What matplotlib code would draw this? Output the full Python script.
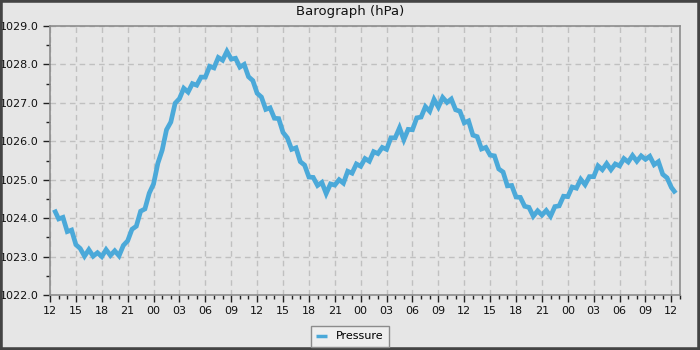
import matplotlib
matplotlib.use("Agg")
import matplotlib.pyplot as plt
import matplotlib.dates as mdates
from matplotlib.patches import Rectangle
from matplotlib.ticker import MultipleLocator, FormatStrFormatter
import pandas as pd

# Half-hourly pressure readings (hPa), starting 12:30 on day 1
pressure = [
    1024.22, 1023.98, 1024.02, 1023.65, 1023.69, 1023.31, 1023.21, 1023.01,
    1023.18, 1023.01, 1023.10, 1023.00, 1023.18, 1023.03, 1023.15, 1023.02,
    1023.29, 1023.41, 1023.71, 1023.79, 1024.18, 1024.24, 1024.65, 1024.89,
    1025.43, 1025.77, 1026.30, 1026.50, 1026.99, 1027.11, 1027.38, 1027.28,
    1027.50, 1027.46, 1027.67, 1027.67, 1027.95, 1027.91, 1028.18, 1028.11,
    1028.34, 1028.14, 1028.16, 1027.93, 1028.00, 1027.68, 1027.58, 1027.25,
    1027.15, 1026.83, 1026.87, 1026.60, 1026.59, 1026.23, 1026.09, 1025.79,
    1025.83, 1025.47, 1025.38, 1025.07, 1025.06, 1024.85, 1024.93, 1024.64,
    1024.89, 1024.86, 1025.00, 1024.91, 1025.22, 1025.17, 1025.41, 1025.35,
    1025.55, 1025.48, 1025.73, 1025.68, 1025.84, 1025.79, 1026.09, 1026.09,
    1026.35, 1026.04, 1026.31, 1026.30, 1026.61, 1026.63, 1026.90, 1026.78,
    1027.09, 1026.89, 1027.14, 1027.01, 1027.10, 1026.82, 1026.78, 1026.48,
    1026.53, 1026.16, 1026.12, 1025.80, 1025.84, 1025.64, 1025.62, 1025.28,
    1025.20, 1024.84, 1024.85, 1024.55, 1024.54, 1024.31, 1024.28, 1024.05,
    1024.19, 1024.08, 1024.20, 1024.05, 1024.30, 1024.32, 1024.57, 1024.56,
    1024.81, 1024.78, 1025.01, 1024.87, 1025.08, 1025.08, 1025.36, 1025.26,
    1025.42, 1025.26, 1025.41, 1025.36, 1025.55, 1025.46, 1025.63, 1025.48,
    1025.62, 1025.53, 1025.61, 1025.39, 1025.47, 1025.14, 1025.05, 1024.80,
    1024.65,
]
times = pd.date_range("2024-01-01 12:30", periods=len(pressure), freq="30min")
x_start = pd.Timestamp("2024-01-01 12:00")
x_end = pd.Timestamp("2024-01-04 13:00")
y_min, y_max = 1022.0, 1029.0
series_label = "Pressure"
title = "Barograph (hPa)"

bg = "#e6e6e6"
line_color = "#4ba9d9"

fig = plt.figure(figsize=(7, 3.5), dpi=100, facecolor=bg)
fig.patches.append(Rectangle((0, 0), 1, 1, transform=fig.transFigure,
                             fill=False, edgecolor="#444444", linewidth=4))
ax = fig.add_axes([50/700, 1 - 295/350, 630/700, 269/350])
ax.set_facecolor(bg)

ax.plot(times, pressure, color=line_color, linewidth=3.4, label=series_label,
        solid_joinstyle="miter", solid_capstyle="butt")

ax.set_xlim(x_start, x_end)
ax.set_ylim(y_min, y_max)
ax.xaxis.set_major_locator(mdates.HourLocator(byhour=range(0, 24, 3)))
ax.xaxis.set_minor_locator(mdates.HourLocator())
ax.xaxis.set_major_formatter(mdates.DateFormatter("%H"))
ax.yaxis.set_major_locator(MultipleLocator(1.0))
ax.yaxis.set_minor_locator(MultipleLocator(0.5))
ax.yaxis.set_major_formatter(FormatStrFormatter("%.1f"))

ax.grid(True, which="major", color="#c0c0c0", linestyle=(0, (4, 3)), linewidth=1)
for s in ax.spines.values():
    s.set_color("#8c8c8c")
    s.set_linewidth(1.2)
ax.tick_params(which="major", direction="out", length=5, width=1, color="#222222",
               labelsize=8, labelcolor="#111111", pad=3)
ax.tick_params(which="minor", direction="out", length=3, width=1, color="#222222")

fig.text(0.5, 1 - 12/350, title, ha="center", va="center", fontsize=9.5, color="#111111")

leg = fig.legend(loc="lower center", bbox_to_anchor=(0.5, 3/350), fontsize=8,
                 frameon=True, fancybox=False, handlelength=1.0, borderpad=0.5,
                 borderaxespad=0)
leg.get_frame().set_facecolor("#eeeeee")
leg.get_frame().set_edgecolor("#8c8c8c")
leg.get_frame().set_alpha(1)
for l in leg.get_lines():
    l.set_linewidth(2.5)

fig.savefig("out.png", dpi=100, facecolor=bg)
